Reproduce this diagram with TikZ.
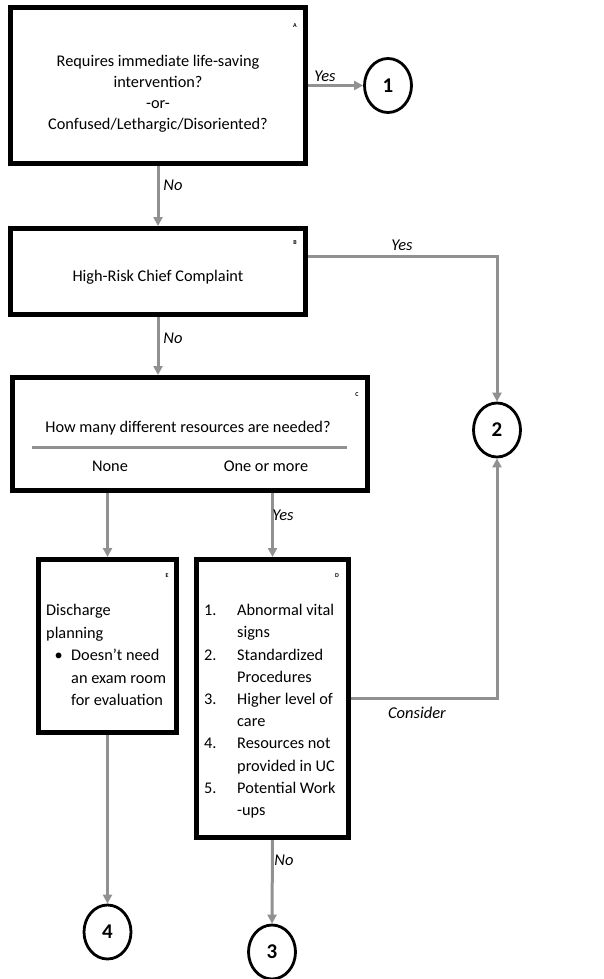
\documentclass[tikz,border=0pt]{standalone}
\usepackage{fontspec}
\setmainfont{Carlito}
\usetikzlibrary{arrows.meta,shapes.geometric}
\definecolor{arrowgray}{RGB}{145,145,145}

\begin{document}
\begin{tikzpicture}[x=1pt, y=-1pt, box/.style={rectangle, draw=black, line width=5pt, inner sep=0pt}, num/.style={ellipse, draw=black, line width=2.8pt, minimum width=47pt, minimum height=54pt, inner sep=0pt, font=\bfseries\fontsize{21}{21}\selectfont}, lbl/.style={font=\itshape\fontsize{16.5}{18}\selectfont, inner sep=0pt}, tag/.style={font=\bfseries\fontsize{6}{7}\selectfont, inner sep=0pt}, txt/.style={font=\fontsize{16.3}{21}\selectfont, inner sep=0pt, align=center}, flow/.style={draw=arrowgray, line width=3pt, -{Triangle[length=9pt,width=9pt]}}, every edge/.style={flow}]
					\useasboundingbox (0,0) rectangle (604,979);
					
					\node[box, minimum width=295pt, minimum height=155pt] (boxA) at (158,85.5){};
					\node[box, minimum width=295pt, minimum height=86pt] (boxB) at (158,271.5){};
					\node[box, minimum width=355pt, minimum height=113pt] (boxC) at (190,434){};
					\node[box, minimum width=138pt, minimum height=173pt] (boxE) at (107.5,646){};
					\node[box, minimum width=152pt, minimum height=278pt] (boxD) at (272.5,698.5){};
					
					\node[num] (c1) at (388,85.5){1};
					\node[num] (c2) at (497,430){2};
					\node[num] (c3) at (272,952){3};
					\node[num] (c4) at (107.5,932){4};
					
					\node[tag] (tagA) at (295,26){A};
					\node[tag] (tagB) at (295,243){B};
					\node[tag] (tagC) at (357,395){C};
					\node[tag] (tagE) at (167,576){E};
					\node[tag] (tagD) at (337,576){D};
					
					\node[txt] (textA) at (158,93.5){Requires immediate life-saving\\intervention?\\-or-\\Confused/Lethargic/Disoriented?};
					\node[txt] (textB) at (158,277){High-Risk Chief Complaint};
					\node[txt] (textC) at (188,428){How many different resources are needed?};
					\draw[draw=arrowgray, line width=3pt] (32,447) -- (347,447);
					\node[txt] (none) at (110,466){None};
					\node[txt] (more) at (266,466){One or more};
					
					\node[txt, anchor=north west, align=left] (textE) at (46,600){\fontsize{16.3}{22.5}\selectfont\begin{tabular}{@{}l@{}l@{}}
						\multicolumn{2}{@{}l@{}}{Discharge}\\
						\multicolumn{2}{@{}l@{}}{planning}\\
						\makebox[25pt][c]{\textbullet} & Doesn't need\\
						& an exam room\\
						& for evaluation
					\end{tabular}};
					\node[txt, anchor=north west, align=left] (textD) at (204,600){\fontsize{16.3}{22.2}\selectfont\begin{tabular}{@{}l@{}l@{}}
						\makebox[33pt][l]{1.} & Abnormal vital\\
						& signs\\
						2. & Standardized\\
						& Procedures\\
						3. & Higher level of\\
						& care\\
						4. & Resources not\\
						& provided in UC\\
						5. & Potential Work\\
						& -ups
					\end{tabular}};
					
					\coordinate (byes) at (boxB.east |- 0,256);
					
					\path (boxA.east) edge (c1.west);
					\path (boxA.south) edge (boxB.north);
					\draw[flow] (byes) -| (c2.north);
					\path (boxB.south) edge (boxB.south |- boxC.north);
					\path (boxE.north |- boxC.south) edge (boxE.north);
					\path (boxD.north |- boxC.south) edge (boxD.north);
					\draw[flow] (boxD.east) -| (c2.south);
					\path (boxE.south) edge (c4.north);
					\path (boxD.south) edge (c3.north);
					
					\node[lbl] (yes1) at (325,76){Yes};
					\node[lbl] (no1) at (173,185){No};
					\node[lbl] (yes2) at (402,245){Yes};
					\node[lbl] (no2) at (173,338){No};
					\node[lbl] (yes3) at (283,515){Yes};
					\node[lbl] (consider) at (417,713){Consider};
					\node[lbl] (no3) at (284,860){No};
					\end{tikzpicture}
\end{document}
